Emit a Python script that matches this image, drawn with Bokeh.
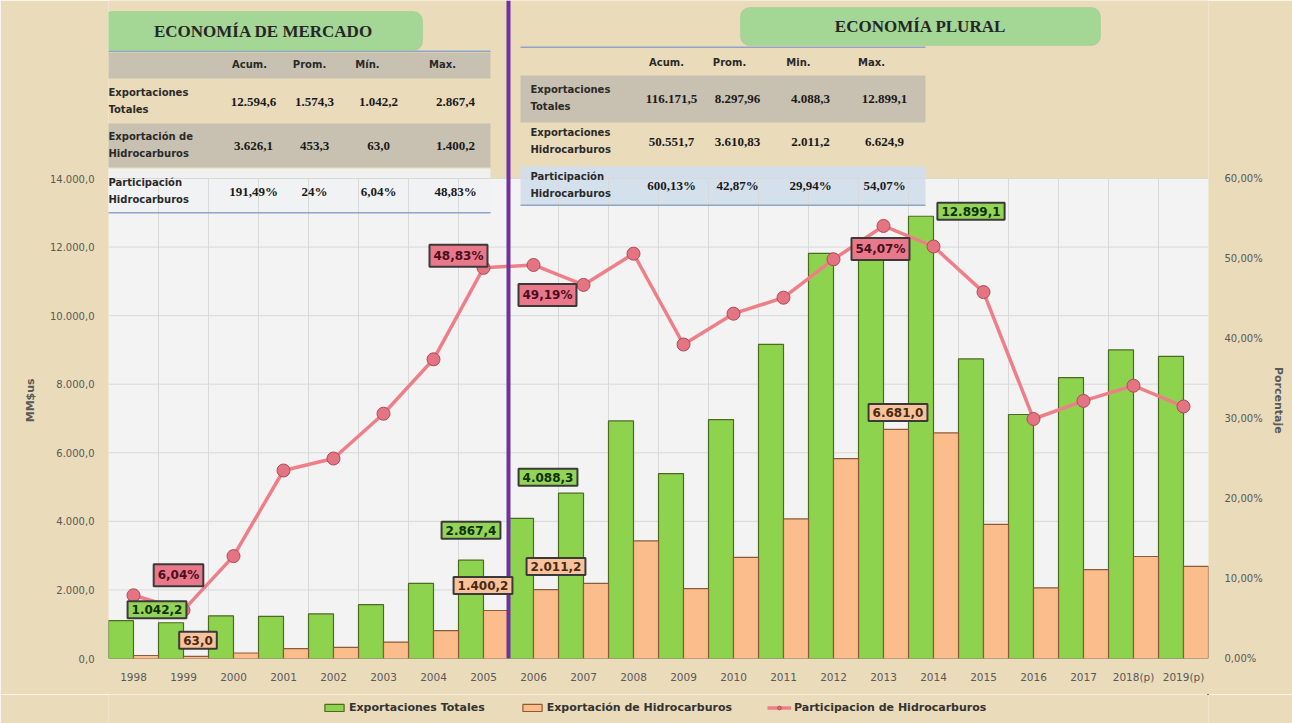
import math
from bokeh.plotting import figure
from bokeh.layouts import column
from bokeh.models import (Range1d, LinearAxis, FixedTicker, Span, Label, BoxAnnotation,
                          Legend, LegendItem, ColumnDataSource)
from bokeh.transform import dodge
from bokeh.embed import file_html
from bokeh.resources import INLINE

# ---------------- data ----------------
years = ["1998", "1999", "2000", "2001", "2002", "2003", "2004", "2005",
         "2006", "2007", "2008", "2009", "2010", "2011", "2012", "2013",
         "2014", "2015", "2016", "2017", "2018(p)", "2019(p)"]
exp_totales = [1104.0, 1042.2, 1246.0, 1230.0, 1300.0, 1570.0, 2190.0, 2867.4,
               4088.3, 4822.0, 6930.0, 5395.0, 6970.0, 9160.0, 11815.0, 12200.0,
               12899.1, 8737.0, 7116.0, 8195.0, 9000.0, 8810.0]
exp_hidro = [87.0, 63.0, 160.0, 289.0, 325.0, 480.0, 815.0, 1400.2,
             2011.2, 2190.0, 3430.0, 2040.0, 2950.0, 4070.0, 5830.0, 6681.0,
             6580.0, 3910.0, 2060.0, 2590.0, 2975.0, 2685.0]
part_hidro = [7.9, 6.04, 12.8, 23.5, 25.0, 30.6, 37.4, 48.83,
              49.19, 46.7, 50.6, 39.25, 43.1, 45.1, 49.9, 54.07,
              51.5, 45.8, 29.94, 32.2, 34.1, 31.5]

y_ticks = [0, 2000, 4000, 6000, 8000, 10000, 12000, 14000]
pct_ticks = [0, 10, 20, 30, 40, 50, 60]

mercado_cols = ["Acum.", "Prom.", "Mín.", "Max."]
mercado_rows = [["Exportaciones", "Totales"], ["Exportación de", "Hidrocarburos"],
                ["Participación", "Hidrocarburos"]]
mercado_totales = ["12.594,6", "1.574,3", "1.042,2", "2.867,4"]
mercado_hidro = ["3.626,1", "453,3", "63,0", "1.400,2"]
mercado_part = ["191,49%", "24%", "6,04%", "48,83%"]

plural_cols = ["Acum.", "Prom.", "Min.", "Max."]
plural_rows = [["Exportaciones", "Totales"], ["Exportaciones", "Hidrocarburos"],
               ["Participación", "Hidrocarburos"]]
plural_totales = ["116.171,5", "8.297,96", "4.088,3", "12.899,1"]
plural_hidro = ["50.551,7", "3.610,83", "2.011,2", "6.624,9"]
plural_part = ["600,13%", "42,87%", "29,94%", "54,07%"]

legend_labels = ["Exportaciones Totales", "Exportación de Hidrocarburos",
                 "Participacion de Hidrocarburos"]


def es(v, d=1):
    s = f"{v:,.{d}f}"
    return s.replace(",", "_").replace(".", ",").replace("_", ".")


# ---------------- layout ----------------
W = 1292
H_MAIN, H_LEG = 694, 29
ML, MR, MT, MB = 108, 84, 0, 36
FW = W - ML - MR
FH = H_MAIN - MT - MB
Y_MAX = 14000
PLOT_PX = 480
n = len(years)
y_top = Y_MAX * FH / PLOT_PX
pct_top = 60 * FH / PLOT_PX

PARCH = "#EADBBA"
GREEN, GREEN_EDGE = "#8ED34E", "#4C6A22"
ORANGE, ORANGE_EDGE = "#FBBD8C", "#8A5B38"
PINK_LINE, PINK_FILL, PINK_EDGE = "#EE7F88", "#E47481", "#B04A58"

p = figure(width=W, height=H_MAIN, x_range=Range1d(-0.5, n - 0.5), y_range=Range1d(0, y_top),
           output_backend="svg", toolbar_location=None,
           min_border_left=ML, min_border_right=MR, min_border_top=MT, min_border_bottom=MB)
p.extra_y_ranges = {"pct": Range1d(0, pct_top)}
p.background_fill_color = PARCH
p.border_fill_color = PARCH
p.outline_line_color = None
p.xgrid.visible = False
p.ygrid.visible = False

FL = ML          # frame left in picture px
FB = MT + FH     # frame bottom in picture px


def gx(px):
    return -0.5 + (px - FL) * n / FW


def gy(py):
    return (FB - py) * Y_MAX / PLOT_PX


def band(x0, x1, y0, y1, color, level="image", alpha=1.0, radius=0, line=None):
    p.add_layout(BoxAnnotation(left=gx(x0), right=gx(x1), top=gy(y0), bottom=gy(y1),
                               fill_color=color, fill_alpha=alpha, line_color=line,
                               line_width=1, level=level, border_radius=radius))


def txt(s, px, py, size, font="DejaVu Sans", bold=True, color="#1a1a1a", align="center"):
    p.add_layout(Label(x=gx(px), y=gy(py), text=s, text_font=font,
                       text_font_size=f"{size}px",
                       text_font_style="bold" if bold else "normal",
                       text_color=color, text_align=align, text_baseline="middle"))


# plot area background
p.add_layout(BoxAnnotation(left=-0.5, right=n - 0.5, bottom=0, top=Y_MAX,
                           fill_color="#F3F3F3", fill_alpha=1.0, line_color=None, level="image"))

# ---------------- tables ----------------
LINE_BLUE = "#8EA5C3"
GREY_BAND = "#C8C1B1"

# left table
band(100, 490, 52, 78, GREY_BAND)
band(100, 490, 123, 167, GREY_BAND)
band(100, 490, 168, 212, "#F1F2F4", alpha=0.9)
band(100, 490, 50, 51.5, LINE_BLUE, level="annotation")
band(100, 490, 211.5, 213, LINE_BLUE, level="annotation")
band(103, 422, 11, 50, "#A4D696", level="annotation", radius=9, line="#8CBF7C")
txt("ECONOMÍA DE MERCADO", 263, 31, 17, font="Liberation Serif", color="#262626")

for c, xc in zip(mercado_cols, [249, 309, 367, 442]):
    txt(c, xc, 64, 10, color="#2a2a2a")
left_vals = [mercado_totales, mercado_hidro, mercado_part]
for r, (lab, vals, yc) in enumerate(zip(mercado_rows, left_vals, [101, 145, 191])):
    txt(lab[0], 108, yc - 9, 10, color="#2a2a2a", align="left")
    txt(lab[1], 108, yc + 8, 10, color="#2a2a2a", align="left")
    for v, xc in zip(vals, [253, 314, 378, 455]):
        txt(v, xc, yc, 13, font="Liberation Serif", color="#1a1a1a")

# right table
band(520, 925, 75, 122, GREY_BAND)
band(520, 925, 166, 205, "#D3DEEC", alpha=0.95)
band(520, 925, 46, 47.5, LINE_BLUE, level="annotation")
band(520, 925, 204, 205.5, LINE_BLUE, level="annotation")
band(740, 1100, 7, 45, "#A4D696", level="annotation", radius=9, line="#8CBF7C")
txt("ECONOMÍA PLURAL", 920, 26, 17, font="Liberation Serif", color="#262626")

for c, xc in zip(plural_cols, [666, 729, 798, 871]):
    txt(c, xc, 62, 10, color="#2a2a2a")
right_vals = [plural_totales, plural_hidro, plural_part]
for r, (lab, vals, yc) in enumerate(zip(plural_rows, right_vals, [98, 141, 185])):
    txt(lab[0], 530, yc - 9, 10, color="#2a2a2a", align="left")
    txt(lab[1], 530, yc + 8, 10, color="#2a2a2a", align="left")
    for v, xc in zip(vals, [671, 737, 810, 884]):
        txt(v, xc, yc, 13, font="Liberation Serif", color="#1a1a1a")

# ---------------- grid ----------------
bounds_x = [i + 0.5 for i in range(n - 1)]
p.segment(x0=bounds_x, x1=bounds_x, y0=[0] * len(bounds_x), y1=[Y_MAX] * len(bounds_x),
          line_color="#D9D9D9", line_width=1, level="underlay")
hy = y_ticks[1:]
p.segment(x0=[-0.5] * len(hy), x1=[n - 0.5] * len(hy), y0=hy, y1=hy,
          line_color="#D9D9D9", line_width=1, level="underlay")

# ---------------- series ----------------
src = ColumnDataSource(dict(idx=list(range(n)), tot=exp_totales, hid=exp_hidro, pct=part_hidro))
g = p.vbar(x=dodge("idx", -0.25), top="tot", width=0.5, source=src,
           fill_color=GREEN, line_color=GREEN_EDGE, line_width=1.2)
o = p.vbar(x=dodge("idx", 0.25), top="hid", width=0.5, source=src,
           fill_color=ORANGE, line_color=ORANGE_EDGE, line_width=1.2)
ln = p.line("idx", "pct", source=src, y_range_name="pct", line_color=PINK_LINE, line_width=3.5)
sc = p.scatter("idx", "pct", source=src, y_range_name="pct", size=13,
               fill_color=PINK_FILL, line_color=PINK_EDGE, line_width=1)

# divider between periods
p.add_layout(Span(location=7.5, dimension="height", line_color="#7030A0", line_width=4))

# ---------------- axes ----------------
PAD = "\u00a0" * 37
la = p.yaxis[0]
la.ticker = FixedTicker(ticks=y_ticks)
la.major_label_overrides = {t: es(t, 1) for t in y_ticks}
la.axis_label = "MM$us" + PAD

ra = LinearAxis(y_range_name="pct", ticker=FixedTicker(ticks=pct_ticks),
                major_label_overrides={t: es(t, 2) + "%" for t in pct_ticks},
                axis_label=PAD + "Porcentaje")
p.add_layout(ra, "right")

xa = p.xaxis[0]
xa.ticker = FixedTicker(ticks=list(range(n)))
xa.major_label_overrides = {i: y for i, y in enumerate(years)}

for ax in (la, ra, xa):
    ax.axis_line_color = None
    ax.major_tick_line_color = None
    ax.minor_tick_line_color = None
    ax.major_tick_out = 0
    ax.major_label_text_color = "#595959"
    ax.major_label_text_font = "DejaVu Sans"
    ax.major_label_text_font_size = "10px"
    ax.axis_label_text_font = "DejaVu Sans"
    ax.axis_label_text_font_size = "11px"
    ax.axis_label_text_font_style = "bold"
    ax.axis_label_text_color = "#595959"
la.major_label_standoff = 14
ra.major_label_standoff = 16
xa.major_label_standoff = 12
xa.major_label_text_font_size = "10.5px"
la.axis_label_standoff = 10
ra.axis_label_standoff = 6

# ---------------- data labels ----------------
GREEN_L, ORANGE_L, PINK_L = "#93D356", "#F8C39C", "#E9788B"
lab_specs = [
    (1, -0.25, exp_totales, None, "tot", -14, 13),
    (1, 0.25, exp_hidro, None, "hid", 2, 16),
    (1, 0.0, part_hidro, "pct", "pct", -5, 35),
    (7, 0.0, part_hidro, "pct", "pct", -25, 12),
    (8, 0.0, part_hidro, "pct", "pct", 14, -30),
    (7, -0.25, exp_totales, None, "tot", 0, 30),
    (7, 0.25, exp_hidro, None, "hid", -13, 25),
    (8, -0.25, exp_totales, None, "tot", 27, 41),
    (8, 0.25, exp_hidro, None, "hid", 10, 23),
    (15, 0.25, exp_hidro, None, "hid", 2, 17),
    (15, 0.0, part_hidro, "pct", "pct", -3, -23),
    (16, -0.25, exp_totales, None, "tot", 50, 5),
]
for idx, off, arr, rng, kind, xo, yo in lab_specs:
    if kind == "pct":
        text, fill, tc = es(arr[idx], 2) + "%", PINK_L, "#4A0F1E"
    elif kind == "tot":
        text, fill, tc = es(arr[idx], 1), GREEN_L, "#10300A"
    else:
        text, fill, tc = es(arr[idx], 1), ORANGE_L, "#4A2A10"
    kw = dict(y_range_name=rng) if rng else {}
    p.add_layout(Label(x=idx + off, y=arr[idx], x_offset=xo, y_offset=yo, text=text,
                       text_align="center", text_baseline="middle",
                       text_font="DejaVu Sans", text_font_style="bold", text_font_size="12px",
                       text_color=tc, background_fill_color=fill,
                       border_line_color="#3A3A3A", border_line_width=2, padding=4, **kw))

# ---------------- legend (strip below the chart) ----------------
# the strip re-uses the same data source; its ranges keep the copies out of view
pl = figure(width=W, height=H_LEG, x_range=Range1d(-200, -199), y_range=Range1d(-200, -199),
            output_backend="svg", toolbar_location=None,
            x_axis_location=None, y_axis_location=None, min_border=0)
pl.extra_y_ranges = {"pct": Range1d(-200, -199)}
pl.background_fill_color = PARCH
pl.border_fill_color = PARCH
pl.outline_line_color = None
pl.xgrid.visible = False
pl.ygrid.visible = False
lg = pl.vbar(x=dodge("idx", -0.25), top="tot", width=0.5, source=src,
             fill_color=GREEN, line_color=GREEN_EDGE, line_width=1.2)
lo = pl.vbar(x=dodge("idx", 0.25), top="hid", width=0.5, source=src,
             fill_color=ORANGE, line_color=ORANGE_EDGE, line_width=1.2)
ll = pl.line("idx", "pct", source=src, y_range_name="pct", line_color=PINK_LINE, line_width=3.5)
ls = pl.scatter("idx", "pct", source=src, y_range_name="pct", size=10,
                fill_color=PINK_FILL, line_color=PINK_EDGE, line_width=1)
legend = Legend(items=[LegendItem(label=legend_labels[0], renderers=[lg]),
                       LegendItem(label=legend_labels[1], renderers=[lo]),
                       LegendItem(label=legend_labels[2], renderers=[ll, ls])],
                orientation="horizontal", location=(214, 9))
legend.background_fill_alpha = 0
legend.border_line_color = None
legend.label_text_font = "DejaVu Sans"
legend.label_text_font_size = "11px"
legend.label_text_font_style = "bold"
legend.label_text_color = "#333333"
legend.glyph_width = 24
legend.glyph_height = 9
legend.label_height = 14
legend.spacing = 35
legend.padding = 0
legend.margin = 0
legend.label_standoff = 3
pl.add_layout(legend)

layout = column(p, pl, spacing=0)
open("out.html", "w").write(file_html(layout, INLINE))
